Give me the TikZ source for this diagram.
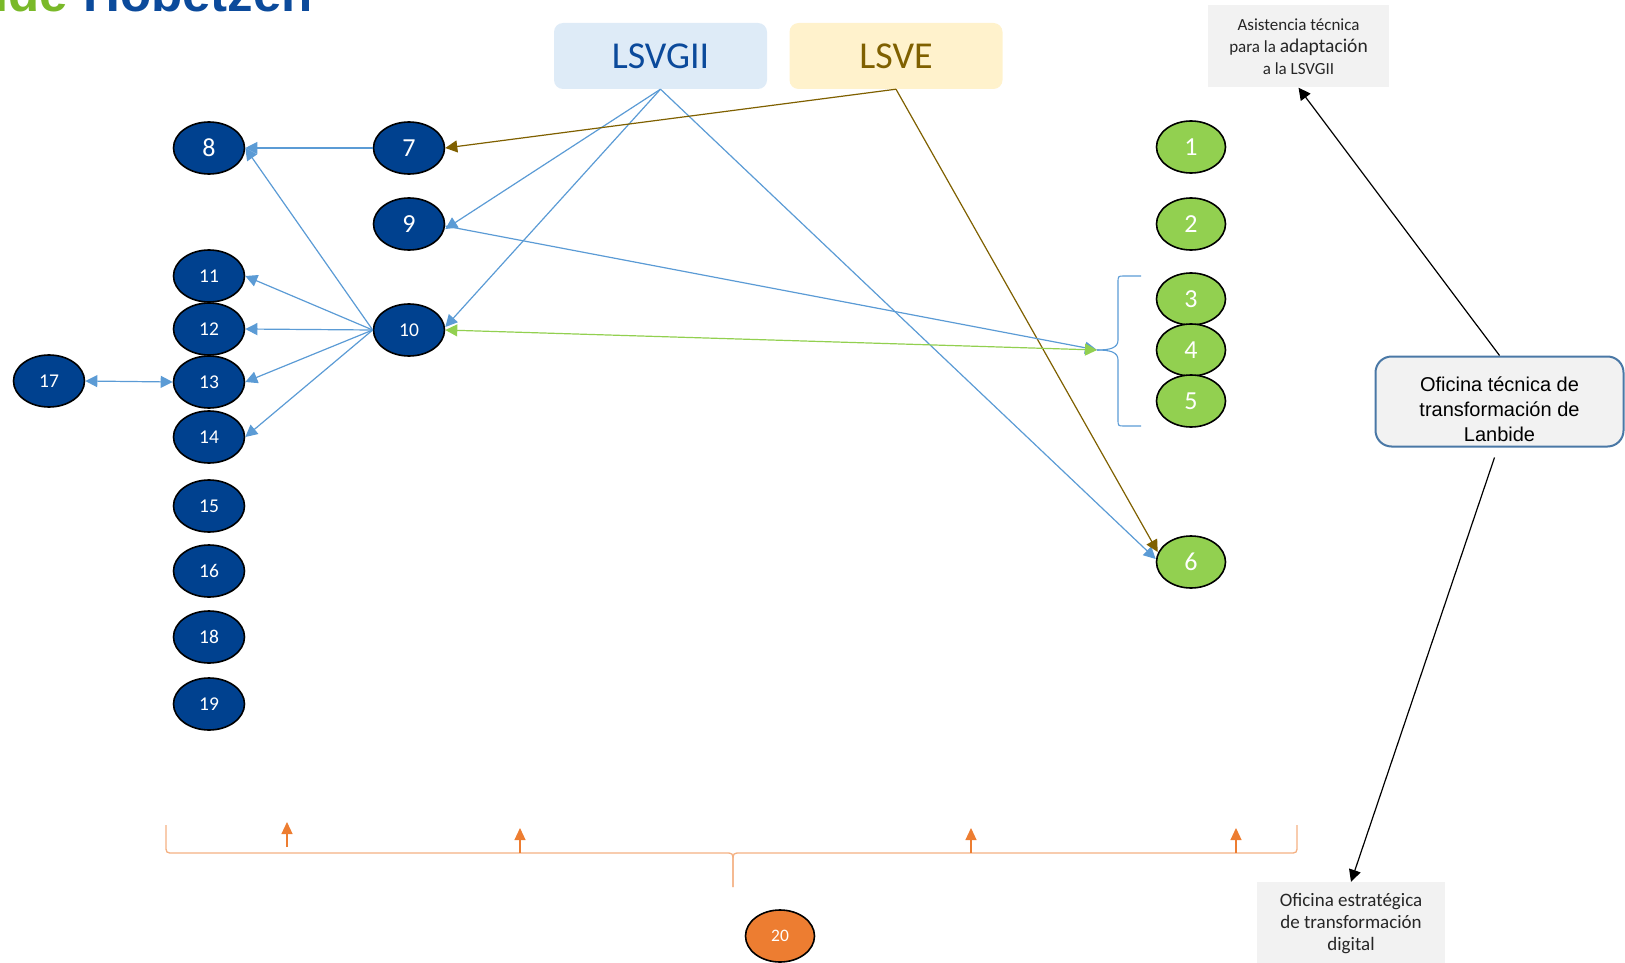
\documentclass[tikz,border=0pt]{standalone}
\usepackage{fontspec}
\setmainfont{Carlito}
\newfontfamily\arialf{Liberation Sans}
\usetikzlibrary{shapes.geometric,arrows.meta}
\definecolor{nblue}{HTML}{00418F}
\definecolor{ngreen}{HTML}{92D050}
\definecolor{norange}{HTML}{ED7D31}
\definecolor{lorange}{HTML}{F4B183}
\definecolor{lblue}{HTML}{5B9BD5}
\definecolor{brown}{HTML}{7F6000}
\definecolor{boxblue}{HTML}{DEEBF7}
\definecolor{boxyellow}{HTML}{FFF2CC}
\definecolor{boxgray}{HTML}{F2F2F2}
\definecolor{titleblue}{HTML}{0B4A9B}
\definecolor{logogreen}{HTML}{7AB929}
\definecolor{borderblue}{HTML}{4A78A6}
\definecolor{darktext}{HTML}{262626}
\tikzset{
  oval/.style={ellipse, draw=black, line width=1.6pt, text=white, inner sep=0pt,
    minimum width=71pt, minimum height=52pt},
  bnode/.style={oval, fill=nblue},
  gnode/.style={oval, fill=ngreen, minimum width=69pt},
  onode/.style={oval, fill=norange, minimum width=69pt},
  bigt/.style={font=\fontsize{26}{30}\selectfont},
  smallt/.style={font=\fontsize{19.5}{22}\selectfont},
  tip/.style={-{Triangle[length=12pt,width=12pt]}},
  dtip/.style={{Triangle[length=12pt,width=12pt]}-{Triangle[length=12pt,width=12pt]}},
  bl/.style={draw=lblue, line width=1.2pt, tip},
  br/.style={draw=brown, line width=1.2pt, tip},
  blk/.style={draw=black, line width=1.2pt, tip},
  lawbox/.style={rounded corners=9pt, minimum width=213pt, minimum height=66pt,
    font=\fontsize{38}{44}\selectfont},
  graybox/.style={fill=boxgray, align=center, text=darktext, inner sep=0pt},
  oarrow/.style={draw=norange, line width=1.2pt, -{Triangle[length=12pt,width=11pt]}}
}
\begin{document}
\begin{tikzpicture}[x=1pt,y=-1pt]
\useasboundingbox (0,0) rectangle (1625,963);
\clip (0,0) rectangle (1625,963);

% partial logo
\node[anchor=base east, inner sep=0pt, text=logogreen, font=\arialf\bfseries\fontsize{51}{56}\selectfont] (logoa) at (68,12) {Lanbide};
\node[anchor=base west, inner sep=0pt, text=titleblue, font=\arialf\bfseries\fontsize{51}{56}\selectfont] (logob) at (83,12) {Hobetzen};

% law boxes
\node[lawbox, fill=boxblue, text=titleblue] (lsvgii) at (660.5,56) {LSVGII};
\node[lawbox, fill=boxyellow, text=brown] (lsve) at (896,56) {LSVE};

% gray boxes
\node[graybox, minimum width=181pt, minimum height=82pt, font=\fontsize{17}{22}\selectfont] (asis) at (1298.5,46.5)
  {Asistencia técnica\\ para la {\fontsize{19.5}{22}\selectfont adaptación}\\ a la LSVGII};
\node[graybox, minimum width=188pt, minimum height=84pt, font=\fontsize{19}{22}\selectfont] (ofe) at (1351,924)
  {Oficina estratégica\\ de transformación\\ digital};
\node[draw=borderblue, line width=2pt, rounded corners=16pt, fill=boxgray, align=center,
  minimum width=248pt, minimum height=90pt, text=black, inner sep=0pt,
  font=\arialf\fontsize{20}{25}\selectfont] (oft) at (1499.5,401.5)
  {\rule{0pt}{30pt}Oficina técnica de\\ transformación de\\ Lanbide};

% blue nodes
\node[bnode, bigt] (n8) at (209,148) {8};
\node[bnode, bigt] (n7) at (409,148) {7};
\node[bnode, bigt] (n9) at (409,224) {9};
\node[bnode, smallt] (n10) at (409,330) {10};
\node[bnode, smallt] (n11) at (209,276) {11};
\node[bnode, smallt] (n12) at (209,329) {12};
\node[bnode, smallt] (n13) at (209,382) {13};
\node[bnode, smallt] (n14) at (209,437) {14};
\node[bnode, smallt] (n15) at (209,506) {15};
\node[bnode, smallt] (n16) at (209,571) {16};
\node[bnode, smallt] (n18) at (209,637) {18};
\node[bnode, smallt] (n19) at (209,704) {19};
\node[bnode, smallt] (n17) at (49,381) {17};

% green nodes
\node[gnode, bigt] (n1) at (1191,147) {1};
\node[gnode, bigt] (n2) at (1191,224) {2};
\node[gnode, bigt] (n3) at (1191,299) {3};
\node[gnode, bigt] (n4) at (1191,350) {4};
\node[gnode, bigt] (n5) at (1191,401) {5};
\node[gnode, bigt] (n6) at (1191,562) {6};

% orange node
\node[onode, font=\fontsize{17.5}{20}\selectfont] (n20) at (780,936) {20};

% blue brace
\coordinate (bt) at (1097,350);
\draw[lblue, line width=1.1pt] (1141,276) -- (1124,276) .. controls (1118,276) .. (1118,283) -- (1118,340)
  .. controls (1118,348) and (1110,350) .. (bt);
\draw[lblue, line width=1.1pt] (1141,426) -- (1124,426) .. controls (1118,426) .. (1118,419) -- (1118,360)
  .. controls (1118,352) and (1110,350) .. (bt);

% connectors
\draw[bl] (lsvgii.south) -- ([yshift=-5pt]n9.east);
\draw[bl] (lsvgii.south) -- ([yshift=3pt]n10.east);
\draw[bl] (lsvgii.south) -- ([yshift=3pt]n6.west);
\draw[br] (lsve.south) -- (n7.east);
\draw[br] (lsve.south) -- ([xshift=2pt,yshift=10pt]n6.west);
\draw[bl] (n7.west) -- (n8.east);
\draw[bl] (n10.west) -- (n8.east);
\draw[bl] (n10.west) -- (n11.east);
\draw[bl] (n10.west) -- (n12.east);
\draw[bl] (n10.west) -- (n13.east);
\draw[bl] (n10.west) -- (n14.east);
\draw[bl] ([yshift=-2pt]n9.east) -- (bt);
\draw[draw=ngreen, line width=1.2pt, dtip] (n10.east) -- (bt);
\draw[draw=lblue, line width=1.2pt, dtip] (n17.east) -- (n13.west);
\draw[blk] (oft.north) -- (asis.south);
\draw[blk] ([xshift=-5pt,yshift=-10pt]oft.south) -- (ofe.north);

% orange brace
\coordinate (ob) at (733,887);
\draw[lorange, line width=1.3pt] (166,825) -- (166,845) .. controls (166,853) .. (174,853) -- (725,853)
  .. controls (733,853) .. (733,862) -- (ob);
\draw[lorange, line width=1.3pt] (1297,825) -- (1297,845) .. controls (1297,853) .. (1289,853) -- (741,853)
  .. controls (733,853) .. (733,862) -- (ob);

% orange arrows
\coordinate (oa1) at (287,847);
\coordinate (oa1t) at (287,822);
\coordinate (oa2) at (520,853);
\coordinate (oa2t) at (520,828);
\coordinate (oa3) at (971,853);
\coordinate (oa3t) at (971,828);
\coordinate (oa4) at (1236,853);
\coordinate (oa4t) at (1236,828);
\draw[oarrow] (oa1) -- (oa1t);
\draw[oarrow] (oa2) -- (oa2t);
\draw[oarrow] (oa3) -- (oa3t);
\draw[oarrow] (oa4) -- (oa4t);
\end{tikzpicture}
\end{document}
